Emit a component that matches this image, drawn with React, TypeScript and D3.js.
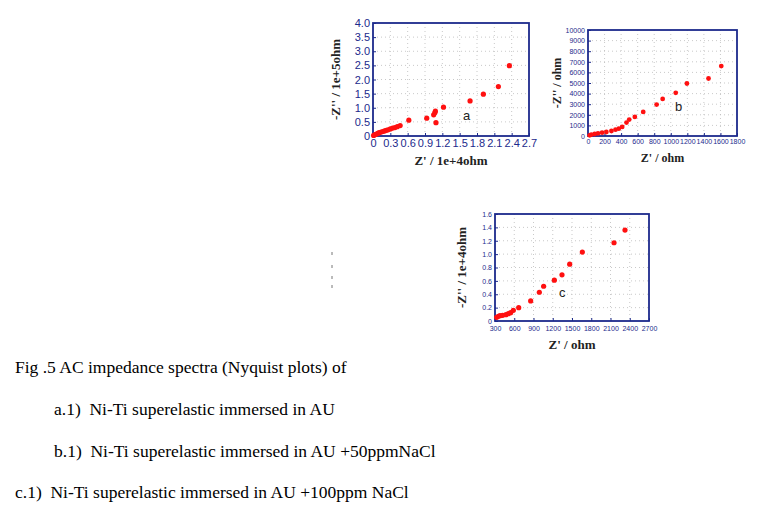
import React, { useEffect, useRef } from "react";
import * as d3 from "d3";

// plot a : Z' in 1e+4 ohm, -Z'' in 1e+5 ohm
const aZre = [0.01, 0.03, 0.05, 0.07, 0.09, 0.11, 0.14, 0.17, 0.2, 0.23, 0.26, 0.3, 0.34, 0.38, 0.42, 0.47, 0.62, 0.93, 1.05, 1.07, 1.08, 1.09, 1.22, 1.68, 1.91, 2.17, 2.36];
const aZim = [0.02, 0.04, 0.06, 0.08, 0.1, 0.12, 0.14, 0.16, 0.18, 0.2, 0.22, 0.25, 0.28, 0.3, 0.33, 0.37, 0.56, 0.63, 0.75, 0.82, 0.88, 0.47, 1.02, 1.24, 1.48, 1.75, 2.49];
const aXTicks = [0, 0.3, 0.6, 0.9, 1.2, 1.5, 1.8, 2.1, 2.4, 2.7];
const aYTicks = [0, 0.5, 1.0, 1.5, 2.0, 2.5, 3.0, 3.5, 4.0];

// plot b : ohm
const bZre = [20, 40, 81, 121, 170, 222, 283, 332, 372, 413, 465, 498, 566, 667, 829, 902, 1060, 1195, 1456, 1610];
const bZim = [63, 126, 189, 252, 315, 379, 473, 600, 694, 852, 1262, 1546, 1798, 2271, 2965, 3502, 4069, 4953, 5426, 6593];
const bXTicks = [0, 200, 400, 600, 800, 1000, 1200, 1400, 1600, 1800];
const bYTicks = [0, 1000, 2000, 3000, 4000, 5000, 6000, 7000, 8000, 9000, 10000];

// plot c : Z' in ohm, -Z'' in 1e+4 ohm
const cZre = [326, 352, 378, 419, 471, 508, 544, 586, 669, 856, 991, 1058, 1225, 1344, 1464, 1661, 2155, 2326];
const cZim = [0.055, 0.07, 0.08, 0.085, 0.095, 0.11, 0.125, 0.16, 0.2, 0.3, 0.43, 0.52, 0.61, 0.69, 0.85, 1.03, 1.17, 1.36];
const cXTicks = [300, 600, 900, 1200, 1500, 1800, 2100, 2400, 2700];
const cYTicks = [0, 0.2, 0.4, 0.6, 0.8, 1.0, 1.2, 1.4, 1.6];

const captions = [
  "Fig .5 AC impedance spectra (Nyquist plots) of",
  "a.1)  Ni-Ti superelastic immersed in AU",
  "b.1)  Ni-Ti superelastic immersed in AU +50ppmNaCl",
  "c.1)  Ni-Ti superelastic immersed in AU +100ppm NaCl",
];

const NAVY = "#1c2a8c";

type PlotCfg = {
  left: number; right: number; top: number; bottom: number;
  xs: number[]; ys: number[];
  xTicks: number[]; yTicks: number[];
  xFmt: (v: number) => string; yFmt: (v: number) => string;
  tickSize: number; r: number; xPad: number;
  xTitle: string; yTitle: string; titleSize: number;
  xTitleY: number; yTitleX: number;
  tag: string; tagX: number; tagY: number;
};

function drawPlot(svg: d3.Selection<SVGSVGElement, unknown, null, undefined>, c: PlotCfg) {
  const x = d3.scaleLinear()
    .domain([c.xTicks[0], c.xTicks[c.xTicks.length - 1]])
    .range([c.left, c.right]);
  const y = d3.scaleLinear()
    .domain([c.yTicks[0], c.yTicks[c.yTicks.length - 1]])
    .range([c.bottom, c.top]);
  const g = svg.append("g");

  // dotted grid
  g.selectAll(".gx").data(c.xTicks.slice(1, -1)).join("line")
    .attr("x1", (d) => x(d)).attr("x2", (d) => x(d))
    .attr("y1", c.top).attr("y2", c.bottom)
    .attr("stroke", "#bbb").attr("stroke-width", 0.8).attr("stroke-dasharray", "1,3");
  g.selectAll(".gy").data(c.yTicks.slice(1, -1)).join("line")
    .attr("y1", (d) => y(d)).attr("y2", (d) => y(d))
    .attr("x1", c.left).attr("x2", c.right)
    .attr("stroke", "#bbb").attr("stroke-width", 0.8).attr("stroke-dasharray", "1,3");

  // axes
  const xAxis = d3.axisBottom(x).tickValues(c.xTicks).tickFormat((d) => c.xFmt(+d)).tickSize(-3).tickPadding(c.xPad);
  const yAxis = d3.axisLeft(y).tickValues(c.yTicks).tickFormat((d) => c.yFmt(+d)).tickSize(-3).tickPadding(3);
  const ax = g.append("g").attr("transform", `translate(0,${c.bottom})`).call(xAxis);
  const ay = g.append("g").attr("transform", `translate(${c.left},0)`).call(yAxis);
  [ax, ay].forEach((a) => {
    a.select(".domain").remove();
    a.selectAll("line").attr("stroke", NAVY);
    a.selectAll("text").attr("fill", NAVY)
      .style("font-family", "Liberation Sans, Arial, sans-serif")
      .style("font-size", `${c.tickSize}px`);
  });

  // frame
  g.append("rect")
    .attr("x", c.left).attr("y", c.top)
    .attr("width", c.right - c.left).attr("height", c.bottom - c.top)
    .attr("fill", "none").attr("stroke", NAVY).attr("stroke-width", 1.8);

  // points
  g.selectAll("circle").data(c.xs.map((v, i) => [v, c.ys[i]])).join("circle")
    .attr("cx", (d) => x(d[0])).attr("cy", (d) => y(d[1]))
    .attr("r", c.r).attr("fill", "#ff1010");

  g.append("text").attr("x", c.tagX).attr("y", c.tagY)
    .attr("font-family", "Liberation Sans, Arial, sans-serif")
    .attr("font-size", 13).attr("fill", "#222").text(c.tag);

  // titles
  g.append("text")
    .attr("x", (c.left + c.right) / 2).attr("y", c.xTitleY)
    .attr("text-anchor", "middle")
    .attr("font-family", "Liberation Serif, Times New Roman, serif")
    .attr("font-weight", "bold").attr("font-size", c.titleSize)
    .attr("fill", "#222").text(c.xTitle);
  g.append("text")
    .attr("transform", `translate(${c.yTitleX},${(c.top + c.bottom) / 2}) rotate(-90)`)
    .attr("text-anchor", "middle")
    .attr("font-family", "Liberation Serif, Times New Roman, serif")
    .attr("font-weight", "bold").attr("font-size", c.titleSize)
    .attr("fill", "#222").text(c.yTitle);
}

const App = () => {
  const ref = useRef<SVGSVGElement>(null);

  useEffect(() => {
    const svg = d3.select(ref.current!);
    svg.selectAll("*").remove();

    drawPlot(svg, {
      left: 373, right: 529, top: 23, bottom: 136,
      xs: aZre, ys: aZim, xTicks: aXTicks, yTicks: aYTicks,
      xFmt: (v) => (v === 0 ? "0" : v.toFixed(1)),
      yFmt: (v) => (v === 0 ? "0" : v.toFixed(1)),
      tickSize: 11, r: 2.6, xPad: 3,
      xTitle: "Z' / 1e+4ohm", yTitle: "-Z'' / 1e+5ohm", titleSize: 13,
      xTitleY: 165, yTitleX: 340,
      tag: "a", tagX: 463, tagY: 120,
    });

    drawPlot(svg, {
      left: 588, right: 737, top: 30, bottom: 136,
      xs: bZre, ys: bZim, xTicks: bXTicks, yTicks: bYTicks,
      xFmt: (v) => String(v), yFmt: (v) => String(v),
      tickSize: 7, r: 2.4, xPad: 3,
      xTitle: "Z' / ohm", yTitle: "-Z'' / ohm", titleSize: 12,
      xTitleY: 162, yTitleX: 561,
      tag: "b", tagX: 675, tagY: 111,
    });

    drawPlot(svg, {
      left: 495, right: 649, top: 214, bottom: 321,
      xs: cZre, ys: cZim, xTicks: cXTicks, yTicks: cYTicks,
      xFmt: (v) => String(v), yFmt: (v) => (v === 0 ? "0" : v.toFixed(1)),
      tickSize: 7, r: 2.6, xPad: 5,
      xTitle: "Z' / ohm", yTitle: "-Z'' / 1e+4ohm", titleSize: 13,
      xTitleY: 349, yTitleX: 466,
      tag: "c", tagX: 559, tagY: 297,
    });

    // stray marks left of plot c
    svg.selectAll(".stray").data([252, 265, 276, 285]).join("line")
      .attr("x1", 332).attr("x2", 332)
      .attr("y1", (d) => d).attr("y2", (d) => d + 3)
      .attr("stroke", "#777").attr("stroke-width", 1);

    // caption
    const capX = [15, 54, 54, 15];
    const capY = [373, 415, 457, 498];
    svg.selectAll(".cap").data(captions).join("text")
      .attr("x", (_, i) => capX[i]).attr("y", (_, i) => capY[i])
      .attr("font-family", "Liberation Serif, Times New Roman, serif")
      .attr("font-size", 17.5).attr("fill", "#000")
      .attr("xml:space", "preserve").style("white-space", "pre")
      .text((d) => d);
  }, []);

  return (
    <svg ref={ref} width={781} height={521}
      style={{ position: "absolute", left: 0, top: 0, background: "#fff" }} />
  );
};

export default App;
